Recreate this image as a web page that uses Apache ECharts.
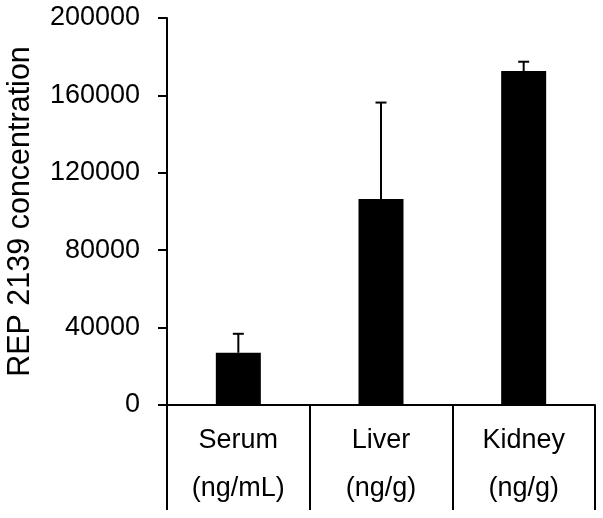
<!DOCTYPE html>
<html>
<head>
<meta charset="utf-8">
<script src="https://cdn.jsdelivr.net/npm/echarts@6/dist/echarts.min.js"></script>
<style>
html,body{margin:0;padding:0;background:#fff;}
#chart{width:603px;height:518px;}
</style>
</head>
<body>
<div id="chart"></div>
<script>
var categories = ['Serum\n(ng/mL)', 'Liver\n(ng/g)', 'Kidney\n(ng/g)'];
var values = [27000, 106500, 172600];
var errors = [9800, 49800, 4800];
var yTicks = {min: 0, max: 200000, interval: 40000};
var yName = 'REP 2139 concentration';

var chart = echarts.init(document.getElementById('chart'), null, {renderer: 'canvas'});
var font = 'Liberation Sans, Arial, sans-serif';
chart.setOption({
  animation: false,
  backgroundColor: '#fff',
  grid: {left: 167, right: 8, top: 18, bottom: 113, containLabel: false, outerBoundsMode: 'none'},
  xAxis: {
    type: 'category',
    data: categories,
    boundaryGap: true,
    axisLine: {show: true, lineStyle: {color: '#000', width: 2}},
    axisTick: {show: true, interval: 0, length: 105, lineStyle: {color: '#000', width: 2}},
    axisLabel: {interval: 0, color: '#000', fontFamily: font, fontSize: 27, lineHeight: 48, margin: 12},
    splitLine: {show: false}
  },
  yAxis: {
    type: 'value',
    min: yTicks.min, max: yTicks.max, interval: yTicks.interval,
    name: yName,
    nameLocation: 'middle',
    nameRotate: 90,
    nameGap: 131,
    nameTextStyle: {color: '#000', fontFamily: font, fontSize: 30.5},
    axisLine: {show: true, lineStyle: {color: '#000', width: 2}},
    axisTick: {show: true, length: 9, lineStyle: {color: '#000', width: 2}},
    axisLabel: {color: '#000', fontFamily: font, fontSize: 27, margin: 27, formatter: function (v) { return String(v); }},
    splitLine: {show: false}
  },
  series: [
    {
      type: 'bar',
      data: values,
      barWidth: 45,
      itemStyle: {color: '#000'},
      z: 2
    },
    {
      type: 'custom',
      z: 3,
      data: values.map(function (v, i) { return [i, v, v + errors[i]]; }),
      encode: {x: 0, y: [1, 2]},
      renderItem: function (params, api) {
        var i = api.value(0);
        var p0 = api.coord([i, api.value(1)]);
        var p1 = api.coord([i, api.value(2)]);
        var half = 5.5;
        return {
          type: 'group',
          children: [
            {type: 'line', shape: {x1: p0[0], y1: p0[1], x2: p1[0], y2: p1[1]}, style: {stroke: '#000', lineWidth: 2}},
            {type: 'line', shape: {x1: p1[0] - half, y1: p1[1], x2: p1[0] + half, y2: p1[1]}, style: {stroke: '#000', lineWidth: 2}}
          ]
        };
      }
    }
  ]
});
</script>
</body>
</html>
